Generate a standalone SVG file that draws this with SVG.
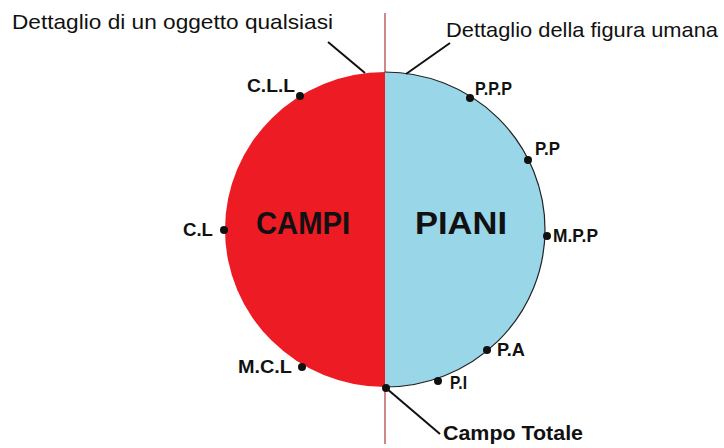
<svg xmlns="http://www.w3.org/2000/svg" width="724" height="448" viewBox="0 0 724 448">
<style>
.lbl{font-family:"Liberation Sans",Arial,sans-serif;font-weight:bold;font-size:18.5px;fill:#111}
.big{font-family:"Liberation Sans",Arial,sans-serif;font-weight:bold;font-size:31px;fill:#111}
.top{font-family:"Liberation Sans",Arial,sans-serif;font-size:21px;fill:#111}
.ct{font-family:"Liberation Sans",Arial,sans-serif;font-weight:bold;font-size:20.5px;fill:#111}
.lead{stroke:#111;stroke-width:2;fill:none}
.dot{fill:#111}
</style>
<rect width="724" height="448" fill="#fff"/>
<g id="axis">
<line x1="385" y1="13" x2="385" y2="444" stroke="#b03a3a" stroke-width="1.2"/>
</g>
<g id="circle">
<path d="M385,72 A160,157.5 0 0 0 385,387 Z" fill="#ED1C24"/>
<path d="M385,72 A160,157.5 0 0 1 385,387 Z" fill="#99D6E8"/>
<path d="M385,72 A160,157.5 0 0 1 385,387" fill="none" stroke="#222" stroke-width="1.2"/>
<text class="big" x="256" y="234" textLength="94" lengthAdjust="spacingAndGlyphs">CAMPI</text>
<text class="big" x="415" y="234" textLength="92" lengthAdjust="spacingAndGlyphs">PIANI</text>
</g>
<g id="connectors">
<line class="lead" x1="328" y1="42" x2="365" y2="73"/>
<line class="lead" x1="450" y1="43" x2="406" y2="74"/>
<line class="lead" x1="386" y1="388" x2="440" y2="434"/>
</g>
<g id="oggetto"><text class="top" x="12" y="29" textLength="321" lengthAdjust="spacingAndGlyphs">Dettaglio di un oggetto qualsiasi</text></g>
<g id="figura"><text class="top" x="446" y="37" textLength="272" lengthAdjust="spacingAndGlyphs">Dettaglio della figura umana</text></g>
<g id="CLL"><circle class="dot" cx="300" cy="96" r="4"/><text class="lbl" x="247" y="92" textLength="48" lengthAdjust="spacingAndGlyphs">C.L.L</text></g>
<g id="CL"><circle class="dot" cx="224" cy="230" r="4"/><text class="lbl" x="183" y="236" textLength="30" lengthAdjust="spacingAndGlyphs">C.L</text></g>
<g id="MCL"><circle class="dot" cx="302" cy="367" r="4"/><text class="lbl" x="238" y="373" textLength="54" lengthAdjust="spacingAndGlyphs">M.C.L</text></g>
<g id="PPP"><circle class="dot" cx="470" cy="98" r="4"/><text class="lbl" x="475" y="95" textLength="37" lengthAdjust="spacingAndGlyphs">P.P.P</text></g>
<g id="PP"><circle class="dot" cx="528" cy="160" r="4"/><text class="lbl" x="535" y="155" textLength="25" lengthAdjust="spacingAndGlyphs">P.P</text></g>
<g id="MPP"><circle class="dot" cx="547" cy="236" r="4"/><text class="lbl" x="553" y="242" textLength="45" lengthAdjust="spacingAndGlyphs">M.P.P</text></g>
<g id="PA"><circle class="dot" cx="487" cy="350" r="4"/><text class="lbl" x="497" y="356" textLength="28" lengthAdjust="spacingAndGlyphs">P.A</text></g>
<g id="PI"><circle class="dot" cx="438" cy="381" r="4"/><text class="lbl" x="450" y="389" textLength="17" lengthAdjust="spacingAndGlyphs">P.I</text></g>
<g id="totale"><circle class="dot" cx="386" cy="388" r="4"/><text class="ct" x="443" y="440" textLength="140" lengthAdjust="spacingAndGlyphs">Campo Totale</text></g>
</svg>
